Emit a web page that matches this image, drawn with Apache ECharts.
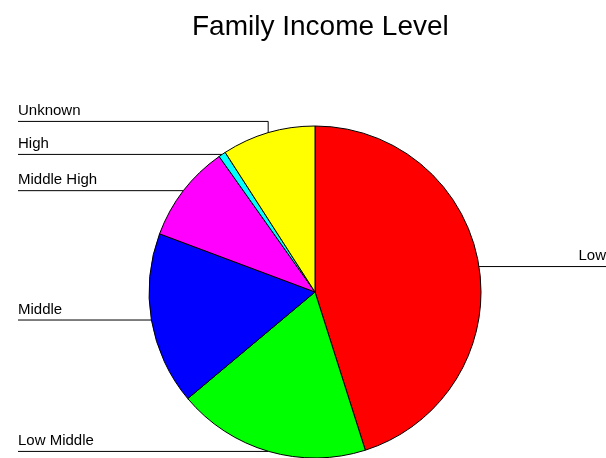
<!DOCTYPE html>
<html>
<head>
<meta charset="utf-8">
<script src="https://cdn.jsdelivr.net/npm/echarts@6/dist/echarts.min.js"></script>
<style>
  html, body { margin: 0; padding: 0; background: #fff; }
  #chart { width: 606px; height: 458px; }
</style>
</head>
<body>
<div id="chart"></div>
<script>
// income levels, clockwise from 12 o'clock
var categories = ['Low', 'Low Middle', 'Middle', 'Middle High', 'High', 'Unknown'];
var shares = [45.1, 18.8, 16.8, 9.5, 0.7, 9.1];
var sliceColors = ['#ff0000', '#00ff00', '#0000ff', '#ff00ff', '#00ffff', '#ffff00'];

var myChart = echarts.init(document.getElementById('chart'));
var lastLeftY = null; // left labels are stacked bottom-up

var option = {
    animation: false,
    backgroundColor: '#fff',
    title: {
        text: 'Family Income Level',
        left: 187,
        top: 8,
        textStyle: {
            fontFamily: 'Liberation Sans',
            fontSize: 28,
            fontWeight: 'normal',
            color: '#000'
        }
    },
    series: [{
        type: 'pie',
        center: [315, 292],
        radius: 166,
        startAngle: 90,
        clockwise: true,
        avoidLabelOverlap: false,
        data: categories.map(function (name, i) {
            return { name: name, value: shares[i], itemStyle: { color: sliceColors[i] } };
        }),
        itemStyle: { borderColor: '#000', borderWidth: 1 },
        label: {
            show: true,
            position: 'outside',
            formatter: '{b}',
            fontFamily: 'Liberation Sans',
            fontSize: 15,
            lineHeight: 15,
            color: '#000'
        },
        labelLine: {
            show: true,
            length: 10,
            length2: 10,
            smooth: false,
            lineStyle: { color: '#000', width: 1 }
        },
        labelLayout: function (params) {
            var p = params.labelLinePoints;
            if (!p) return;
            if (params.dataIndex === 0) lastLeftY = null;
            var edge = p[0];
            var lineY = edge[1];
            if (edge[0] > myChart.getWidth() / 2) {
                return {
                    x: 606, y: lineY - 3, align: 'right', verticalAlign: 'bottom',
                    labelLinePoints: [edge, [edge[0], lineY], [606, lineY]]
                };
            }
            if (lastLeftY !== null && lineY > lastLeftY - 33) lineY = lastLeftY - 33;
            lastLeftY = lineY;
            return {
                x: 18, y: lineY - 3, align: 'left', verticalAlign: 'bottom',
                labelLinePoints: [edge, [edge[0], lineY], [18, lineY]]
            };
        }
    }]
};

myChart.setOption(option);
</script>
</body>
</html>
